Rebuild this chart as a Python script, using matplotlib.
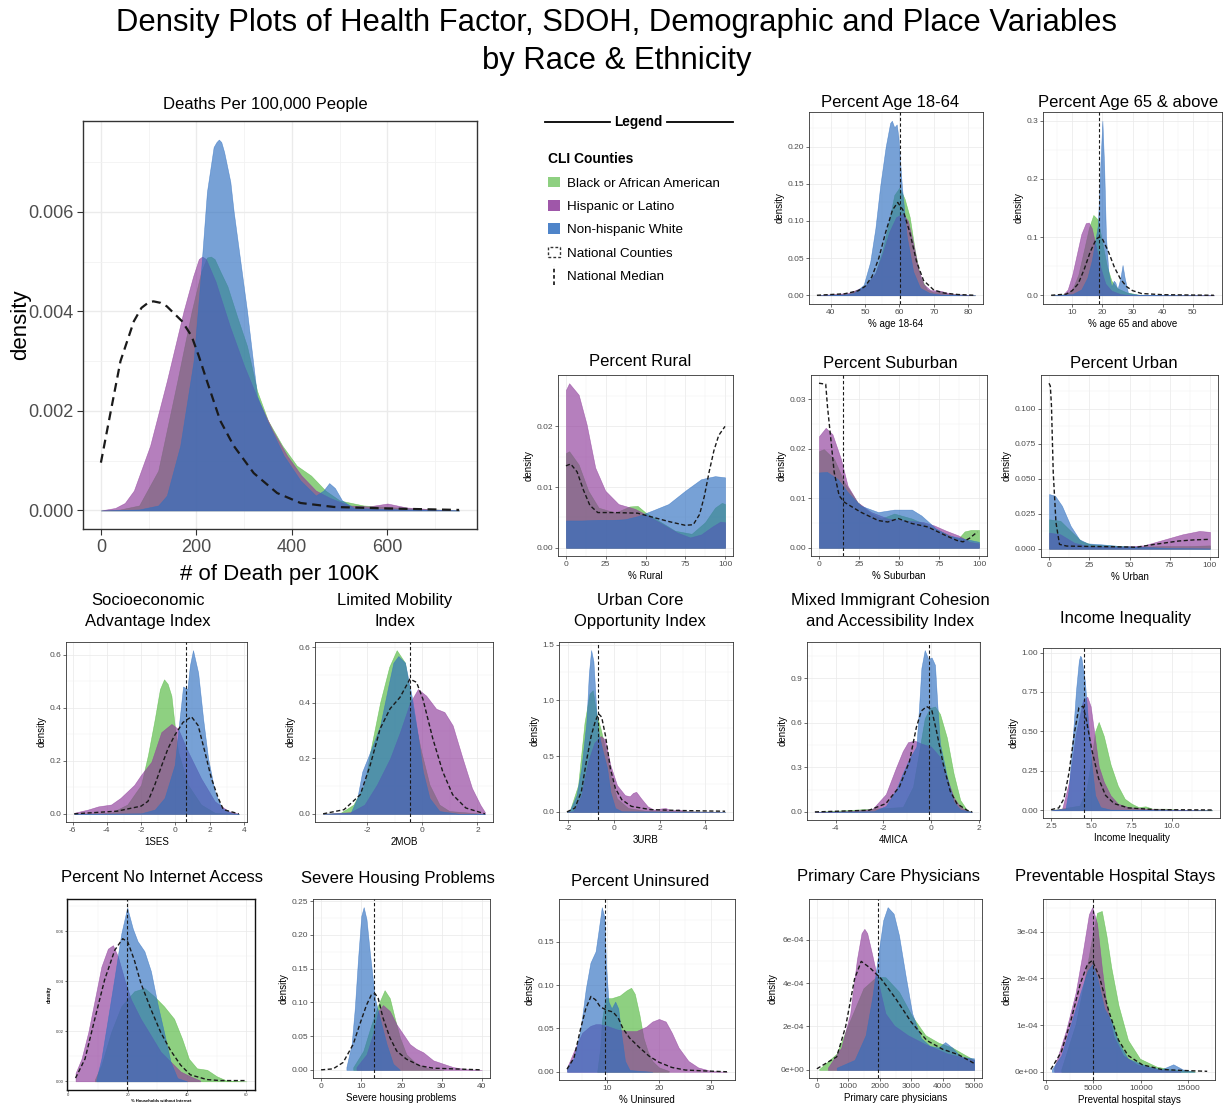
import matplotlib
matplotlib.use("Agg")
import matplotlib.pyplot as plt
from matplotlib import font_manager as fm
from matplotlib.ticker import FixedLocator, NullFormatter
from matplotlib.patches import Patch
from matplotlib.lines import Line2D
from matplotlib.legend_handler import HandlerBase

# ---------------------------------------------------------------- data
# Deaths per 100,000
DEATHS_BLACK_X = [0, 40, 80, 120, 160, 190, 210, 222, 230, 238, 250, 265, 285, 306, 327, 350, 380, 410, 440, 470, 500, 550, 600, 650, 700, 750]
DEATHS_BLACK_Y = [0, 0.00002, 0.0001, 0.0008, 0.0026, 0.0040, 0.0048, 0.00508, 0.0051, 0.00505, 0.0048, 0.0045, 0.0039, 0.0033, 0.0024, 0.0018, 0.0013, 0.0009, 0.0007, 0.0004, 0.0002, 0.0001, 0.00007, 0.00004, 0.00002, 0]
DEATHS_HISP_X = [0, 30, 50, 69, 103, 138, 173, 193, 205, 212, 220, 240, 270, 300, 330, 360, 390, 420, 450, 480, 520, 560, 600, 640, 700, 750]
DEATHS_HISP_Y = [0, 0.00005, 0.00015, 0.0004, 0.0013, 0.0026, 0.0040, 0.0047, 0.00505, 0.0051, 0.00505, 0.0046, 0.0037, 0.0029, 0.0022, 0.0016, 0.0011, 0.0007, 0.0004, 0.00025, 0.0001, 0.00008, 0.00014, 0.00006, 0.00002, 0]
DEATHS_WHITE_X = [0, 80, 120, 138, 166, 194, 208, 222, 236, 242, 247, 252, 258, 271, 278, 292, 306, 327, 348, 383, 418, 450, 466, 478, 490, 505, 530, 600, 700, 750]
DEATHS_WHITE_Y = [0, 0.00002, 0.0001, 0.0003, 0.0013, 0.0030, 0.0046, 0.0064, 0.0073, 0.0074, 0.00745, 0.0074, 0.0072, 0.0066, 0.0060, 0.0050, 0.0040, 0.0023, 0.0018, 0.0011, 0.0006, 0.0003, 0.0004, 0.00055, 0.00045, 0.0002, 0.00005, 0.00003, 0.00001, 0]
DEATHS_NAT_X = [0, 20, 41, 69, 85, 100, 110, 125, 138, 170, 190, 205, 222, 250, 278, 320, 369, 418, 488, 600, 750]
DEATHS_NAT_Y = [0.00096, 0.00196, 0.0030, 0.0038, 0.00407, 0.00418, 0.0042, 0.00417, 0.0041, 0.0038, 0.0035, 0.0031, 0.0026, 0.0018, 0.0013, 0.00075, 0.00035, 0.00015, 0.00007, 0.00004, 0.00001]

# Percent age 18-64
A1_BLACK_X = [36, 45, 50, 53, 55, 57, 58.5, 60, 61.5, 63, 64.5, 66, 68, 70, 72, 74, 82]
A1_BLACK_Y = [0, 0.002, 0.012, 0.03, 0.06, 0.10, 0.135, 0.145, 0.13, 0.105, 0.06, 0.025, 0.008, 0.004, 0.005, 0.002, 0]
A1_HISP_X = [36, 45, 50, 53, 55, 57, 59, 61, 62.5, 64, 65.5, 67, 69, 72, 75, 82]
A1_HISP_Y = [0, 0.003, 0.012, 0.03, 0.055, 0.085, 0.105, 0.11, 0.10, 0.07, 0.035, 0.015, 0.007, 0.006, 0.002, 0]
A1_WHITE_X = [36, 44, 46.7, 49.6, 51.5, 53, 54.4, 56, 57.3, 57.8, 58.5, 59.2, 59.7, 60.7, 62.1, 64, 66, 68.8, 72, 82]
A1_WHITE_Y = [0, 0.001, 0.003, 0.014, 0.045, 0.09, 0.147, 0.2, 0.232, 0.235, 0.226, 0.23, 0.213, 0.147, 0.08, 0.032, 0.01, 0.003, 0.001, 0]
A1_NAT_X = [36, 44, 48, 50, 52, 54, 56, 58, 59.5, 61, 63, 65, 67, 70, 73, 77, 82]
A1_NAT_Y = [0, 0.002, 0.006, 0.012, 0.025, 0.05, 0.085, 0.115, 0.125, 0.115, 0.085, 0.045, 0.02, 0.007, 0.003, 0.001, 0]
A1_MED = 60.2

# Percent age 65 and above
A2_BLACK_X = [3, 8, 10, 12, 14, 15.5, 17, 18.5, 20, 21.5, 23, 25, 28, 32, 57]
A2_BLACK_Y = [0, 0.002, 0.01, 0.035, 0.08, 0.115, 0.138, 0.13, 0.09, 0.05, 0.025, 0.012, 0.005, 0.001, 0]
A2_HISP_X = [3, 7, 8.5, 10, 11.5, 13, 14.5, 15.5, 16.5, 18, 19.5, 21, 23, 26, 30, 57]
A2_HISP_Y = [0, 0.001, 0.01, 0.035, 0.07, 0.105, 0.124, 0.125, 0.115, 0.08, 0.045, 0.02, 0.008, 0.002, 0, 0]
A2_WHITE_X = [3, 10, 13, 15, 16.5, 17.5, 18.5, 19.3, 20.0, 20.6, 21.2, 22, 23, 23.8, 24.3, 25, 26, 26.7, 27.4, 28.5, 32, 57]
A2_WHITE_Y = [0, 0.002, 0.01, 0.03, 0.06, 0.09, 0.12, 0.22, 0.30, 0.22, 0.10, 0.04, 0.015, 0.025, 0.022, 0.01, 0.03, 0.052, 0.03, 0.004, 0.001, 0]
A2_NAT_X = [3, 8, 10, 12, 14, 16, 18, 19, 20, 22, 24, 26, 28, 30, 33, 40, 57]
A2_NAT_Y = [0, 0.002, 0.008, 0.02, 0.045, 0.075, 0.097, 0.1, 0.097, 0.075, 0.048, 0.028, 0.015, 0.008, 0.003, 0.001, 0]
A2_MED = 18.9

# Percent rural
RU_BLACK_X = [0, 2, 8, 14, 20.5, 31, 40, 45, 50, 58, 68.6, 79, 87.4, 93.7, 98, 100]
RU_BLACK_Y = [0.0156, 0.0159, 0.0137, 0.0094, 0.0066, 0.0058, 0.0068, 0.0069, 0.0058, 0.0045, 0.0028, 0.0023, 0.0042, 0.0066, 0.0074, 0.0072]
RU_HISP_X = [0, 2, 8, 13, 18.4, 24.7, 33, 43.5, 50, 60, 70, 78, 85, 92, 97, 100]
RU_HISP_Y = [0.026, 0.0271, 0.0252, 0.0203, 0.0132, 0.0094, 0.0072, 0.0064, 0.0055, 0.0040, 0.0025, 0.0017, 0.0022, 0.0035, 0.0043, 0.0042]
RU_WHITE_X = [0, 10, 20, 30, 37, 45, 54, 64.4, 75, 85, 93.7, 100]
RU_WHITE_Y = [0.0045, 0.0045, 0.0046, 0.0046, 0.0047, 0.0052, 0.0061, 0.0072, 0.0094, 0.0113, 0.0118, 0.0116]
RU_NAT_X = [0, 3, 7, 11, 15, 20, 30, 45, 55, 65, 75, 80, 84, 87, 90, 93, 96, 100]
RU_NAT_Y = [0.0135, 0.0138, 0.0125, 0.0095, 0.0070, 0.0058, 0.0058, 0.0057, 0.0050, 0.0043, 0.0037, 0.0038, 0.0055, 0.0085, 0.0125, 0.0160, 0.0185, 0.0200]

# Percent suburban
SU_BLACK_X = [0, 3, 9.5, 15.8, 24, 32, 39, 47, 58, 68, 79, 87, 91, 95, 100]
SU_BLACK_Y = [0.0195, 0.0199, 0.0179, 0.0132, 0.0092, 0.0070, 0.0059, 0.0069, 0.0059, 0.0045, 0.0029, 0.0018, 0.0033, 0.0036, 0.0036]
SU_HISP_X = [0, 4.2, 8.4, 13.7, 17.9, 24, 32.6, 43, 55, 65, 72, 79, 87, 94, 100]
SU_HISP_Y = [0.0225, 0.0242, 0.0229, 0.0179, 0.0125, 0.0092, 0.0072, 0.0059, 0.0055, 0.0052, 0.0045, 0.0035, 0.0025, 0.0012, 0.0009]
SU_WHITE_X = [0, 5, 11.6, 18, 26, 37, 47, 58, 64, 73, 81, 89.5, 100]
SU_WHITE_Y = [0.0152, 0.0153, 0.0139, 0.0112, 0.0085, 0.0072, 0.0077, 0.0077, 0.0065, 0.0039, 0.0025, 0.0019, 0.0012]
SU_NAT_X = [0, 4.2, 5.3, 7.4, 9.5, 12.6, 15.8, 26, 37, 43, 49.5, 58, 68, 79, 86, 90, 94, 99]
SU_NAT_Y = [0.0332, 0.033, 0.0285, 0.0219, 0.0152, 0.0105, 0.0092, 0.0072, 0.0055, 0.0052, 0.0059, 0.0049, 0.0042, 0.0025, 0.0015, 0.0012, 0.0019, 0.0032]
SU_MED = 15.2

# Percent urban
UR_BLACK_X = [0, 7, 13.4, 20, 26, 37, 54.5, 70, 87, 100]
UR_BLACK_Y = [0.021, 0.0199, 0.0127, 0.0055, 0.0031, 0.0024, 0.0014, 0.0019, 0.0019, 0.0024]
UR_HISP_X = [0, 7, 15.6, 24, 44, 59, 72, 83, 93.5, 100]
UR_HISP_Y = [0.0115, 0.0103, 0.0043, 0.0019, 0.0014, 0.0024, 0.0067, 0.0103, 0.0127, 0.012]
UR_WHITE_X = [0, 3.7, 8, 13.4, 18.8, 24, 33, 44, 54.5, 65, 76, 100]
UR_WHITE_Y = [0.039, 0.0378, 0.0306, 0.0163, 0.0067, 0.0038, 0.0031, 0.0019, 0.0014, 0.0010, 0.0005, 0.0002]
UR_NAT_X = [0, 0.8, 1.5, 2.6, 4.3, 6.5, 11, 20, 35, 50, 54, 65, 80.5, 90, 100]
UR_NAT_Y = [0.118, 0.116, 0.102, 0.0545, 0.0187, 0.0031, 0.0019, 0.0017, 0.0015, 0.0012, 0.0010, 0.003, 0.0055, 0.0063, 0.0067]

# 1SES
SES_BLACK_X = [-5.9, -3.75, -2.8, -2.0, -1.6, -1.2, -0.9, -0.66, -0.45, -0.23, -0.04, 0.16, 0.74, 1.5, 2.3, 3.7]
SES_BLACK_Y = [0, 0.004, 0.035, 0.109, 0.221, 0.358, 0.47, 0.507, 0.49, 0.445, 0.333, 0.234, 0.109, 0.035, 0.004, 0]
SES_HISP_X = [-5.9, -5.1, -4.5, -3.75, -3.2, -2.4, -2.0, -1.4, -0.82, -0.23, 0.16, 0.74, 1.5, 2.3, 3.1, 3.7]
SES_HISP_Y = [0.004, 0.016, 0.028, 0.035, 0.06, 0.109, 0.147, 0.196, 0.308, 0.339, 0.32, 0.234, 0.134, 0.047, 0.01, 0]
SES_WHITE_X = [-5.9, -2.0, -1.2, -0.63, -0.04, 0.2, 0.45, 0.7, 0.85, 1.03, 1.33, 1.62, 1.91, 2.3, 2.7, 3.3, 3.7]
SES_WHITE_Y = [0, 0.002, 0.016, 0.06, 0.184, 0.33, 0.48, 0.47, 0.56, 0.617, 0.532, 0.358, 0.209, 0.084, 0.022, 0.002, 0]
SES_NAT_X = [-5.9, -3.4, -2.0, -1.6, -1.2, -0.82, -0.43, -0.04, 0.45, 0.94, 1.33, 1.72, 2.1, 2.5, 2.8, 3.7]
SES_NAT_Y = [0, 0.01, 0.029, 0.047, 0.109, 0.178, 0.246, 0.296, 0.345, 0.366, 0.333, 0.234, 0.134, 0.06, 0.016, 0]
SES_MED = 0.6

# 2MOB
MOB_BLACK_X = [-3.6, -2.96, -2.5, -2.1, -1.89, -1.53, -1.2, -0.93, -0.63, -0.39, -0.2, -0.04, 0.26, 0.62, 0.98, 2.27]
MOB_BLACK_Y = [0, 0.004, 0.033, 0.105, 0.224, 0.402, 0.53, 0.59, 0.545, 0.402, 0.3, 0.224, 0.105, 0.033, 0.01, 0]
MOB_HISP_X = [-3.6, -2.6, -2.1, -1.65, -1.17, -0.81, -0.45, -0.16, 0.14, 0.5, 0.8, 1.1, 1.46, 1.8, 2.1, 2.27]
MOB_HISP_Y = [0, 0.006, 0.033, 0.105, 0.2, 0.295, 0.4, 0.45, 0.426, 0.379, 0.367, 0.319, 0.2, 0.093, 0.033, 0.006]
MOB_WHITE_X = [-3.6, -2.6, -2.36, -2.18, -1.89, -1.53, -1.23, -1.05, -0.87, -0.63, -0.39, -0.2, 0.02, 0.26, 0.62, 1.34, 2.27]
MOB_WHITE_Y = [0, 0.004, 0.057, 0.152, 0.224, 0.319, 0.462, 0.545, 0.569, 0.545, 0.426, 0.307, 0.152, 0.057, 0.01, 0, 0]
MOB_NAT_X = [-3.6, -2.84, -2.25, -1.89, -1.53, -1.17, -0.81, -0.45, -0.21, 0.02, 0.38, 0.74, 1.1, 1.58, 2.27]
MOB_NAT_Y = [0, 0.015, 0.069, 0.176, 0.307, 0.379, 0.42, 0.486, 0.474, 0.414, 0.271, 0.152, 0.069, 0.021, 0]
MOB_MED = -0.45

# 3URB
URB_BLACK_X = [-2.06, -1.92, -1.57, -1.29, -1.07, -0.93, -0.76, -0.58, -0.37, -0.16, 0.13, 0.62, 1.33, 3.0, 4.86]
URB_BLACK_Y = [0, 0.02, 0.24, 0.8, 1.06, 1.09, 0.87, 0.74, 0.56, 0.33, 0.12, 0.035, 0.012, 0.006, 0]
URB_HISP_X = [-2.06, -1.78, -1.43, -1.14, -0.86, -0.58, -0.4, -0.16, 0.13, 0.48, 0.69, 0.83, 0.97, 1.19, 1.47, 1.75, 2.03, 2.25, 2.53, 2.81, 3.1, 4.86]
URB_HISP_Y = [0, 0.006, 0.15, 0.45, 0.62, 0.68, 0.65, 0.42, 0.24, 0.15, 0.14, 0.17, 0.18, 0.12, 0.05, 0.02, 0.03, 0.035, 0.012, 0.023, 0.006, 0]
URB_WHITE_X = [-2.06, -1.92, -1.64, -1.43, -1.21, -1.1, -1.0, -0.9, -0.76, -0.65, -0.5, -0.3, -0.16, 0.05, 0.34, 4.86]
URB_WHITE_Y = [0, 0.02, 0.15, 0.39, 0.8, 1.24, 1.45, 1.35, 0.86, 0.68, 0.55, 0.39, 0.18, 0.035, 0.006, 0]
URB_NAT_X = [-2.06, -1.71, -1.43, -1.21, -1.0, -0.82, -0.68, -0.54, -0.37, -0.16, 0.06, 0.34, 0.76, 1.61, 3.0, 4.86]
URB_NAT_Y = [0, 0.035, 0.18, 0.45, 0.68, 0.81, 0.88, 0.85, 0.68, 0.39, 0.21, 0.11, 0.05, 0.02, 0.012, 0.006]
URB_MED = -0.72

# 4MICA
MICA_BLACK_X = [-4.87, -1.18, -0.75, -0.47, -0.26, -0.04, 0.17, 0.38, 0.67, 0.95, 1.23, 1.52, 1.73]
MICA_BLACK_Y = [0, 0.033, 0.17, 0.43, 0.63, 0.70, 0.71, 0.66, 0.50, 0.26, 0.08, 0.011, 0]
MICA_HISP_X = [-4.87, -3.87, -3.3, -2.45, -1.89, -1.46, -1.18, -0.96, -0.68, -0.4, 0.0, 0.38, 0.67, 0.95, 1.23, 1.52, 1.73]
MICA_HISP_Y = [0, 0.003, 0.007, 0.02, 0.12, 0.30, 0.41, 0.47, 0.48, 0.46, 0.44, 0.37, 0.23, 0.10, 0.033, 0.007, 0]
MICA_WHITE_X = [-4.87, -2.4, -1.89, -1.46, -1.18, -0.9, -0.61, -0.5, -0.4, -0.26, -0.11, 0.03, 0.17, 0.27, 0.38, 0.67, 0.95, 1.23, 1.73]
MICA_WHITE_Y = [0, 0.005, 0.04, 0.15, 0.26, 0.36, 0.44, 0.70, 0.97, 1.09, 1.03, 1.04, 0.99, 0.72, 0.46, 0.24, 0.07, 0.016, 0]
MICA_NAT_X = [-4.87, -2.6, -1.89, -1.32, -0.9, -0.61, -0.4, -0.18, 0.03, 0.24, 0.52, 0.81, 1.09, 1.52, 1.73]
MICA_NAT_Y = [0, 0.011, 0.056, 0.17, 0.34, 0.57, 0.68, 0.71, 0.69, 0.54, 0.32, 0.14, 0.056, 0.011, 0]
MICA_MED = -0.1

# Income inequality
IN_BLACK_X = [2.5, 4.27, 4.7, 5.03, 5.24, 5.46, 5.78, 6.2, 6.65, 7.08, 7.5, 7.94, 8.37, 8.8, 9.67, 10.5, 12.5]
IN_BLACK_Y = [0, 0.03, 0.135, 0.34, 0.5, 0.56, 0.47, 0.29, 0.156, 0.073, 0.042, 0.02, 0.025, 0.01, 0.01, 0.002, 0]
IN_HISP_X = [2.5, 3.19, 3.62, 4.05, 4.49, 4.75, 4.96, 5.24, 5.46, 5.78, 6.2, 6.65, 7.3, 8.4, 10.1, 12.5]
IN_HISP_Y = [0, 0.01, 0.18, 0.49, 0.70, 0.72, 0.66, 0.45, 0.28, 0.18, 0.094, 0.042, 0.02, 0.01, 0.004, 0]
IN_WHITE_X = [2.5, 3.4, 3.6, 3.84, 4.05, 4.23, 4.31, 4.38, 4.6, 4.81, 5.03, 5.24, 5.57, 6.2, 12.5]
IN_WHITE_Y = [0, 0.01, 0.135, 0.45, 0.76, 0.95, 0.98, 0.97, 0.82, 0.55, 0.28, 0.094, 0.02, 0.004, 0]
IN_NAT_X = [2.5, 2.98, 3.3, 3.62, 3.95, 4.23, 4.49, 4.7, 5.03, 5.46, 5.89, 6.43, 7.3, 9.0, 12.5]
IN_NAT_Y = [0.004, 0.015, 0.073, 0.24, 0.49, 0.65, 0.66, 0.57, 0.385, 0.2, 0.094, 0.042, 0.015, 0.004, 0.002]
IN_MED = 4.55

# Percent no internet access
NI_BLACK_X = [8.9, 11.1, 14.4, 17.8, 22.2, 25.6, 28.9, 32.2, 35.6, 38.3, 40.6, 43.3, 46.7, 50, 53.3, 60]
NI_BLACK_Y = [0.0007, 0.0065, 0.0197, 0.030, 0.036, 0.0373, 0.034, 0.030, 0.025, 0.017, 0.009, 0.0052, 0.0046, 0.002, 0.0003, 0]
NI_HISP_X = [2.4, 4.4, 6.7, 8.9, 11.1, 13.3, 15, 16.7, 18.9, 21.1, 24.4, 27.8, 31.1, 34.4, 37.8, 41.1, 44.4]
NI_HISP_Y = [0.0033, 0.009, 0.0197, 0.0327, 0.0458, 0.053, 0.0544, 0.0498, 0.0406, 0.0327, 0.0249, 0.0183, 0.0118, 0.0079, 0.0039, 0.002, 0.0003]
NI_WHITE_X = [9.4, 11.1, 13.3, 15.6, 17.8, 19.8, 21.7, 23.3, 25.6, 27.8, 30, 32.2, 34.4, 36.7, 40]
NI_WHITE_Y = [0.0007, 0.009, 0.025, 0.042, 0.059, 0.0694, 0.061, 0.056, 0.052, 0.044, 0.031, 0.0197, 0.0079, 0.0013, 0]
NI_NAT_X = [2.4, 5.6, 8.9, 12.2, 15.6, 18.3, 20, 22.2, 24.4, 27.8, 31.1, 34.4, 37.8, 41.1, 46.7, 51.1, 60]
NI_NAT_Y = [0.0013, 0.009, 0.025, 0.0406, 0.0524, 0.057, 0.0557, 0.0485, 0.0393, 0.0288, 0.0196, 0.0124, 0.0065, 0.0026, 0.0007, 0.0003, 0.0003]
NI_MED = 19.8

# Severe housing problems
HO_BLACK_X = [8, 10.5, 12.5, 14.2, 15.8, 17.1, 18.3, 19.6, 21.2, 23.7, 27, 30.4]
HO_BLACK_Y = [0.004, 0.028, 0.067, 0.096, 0.118, 0.106, 0.077, 0.048, 0.023, 0.009, 0.0015, 0]
HO_HISP_X = [8.8, 11.3, 12.9, 14.2, 15.4, 17.1, 18.8, 20.4, 22.1, 23.7, 25.4, 27.9, 30.4, 32.9, 36.2, 40]
HO_HISP_Y = [0.004, 0.023, 0.053, 0.087, 0.096, 0.087, 0.067, 0.053, 0.038, 0.031, 0.026, 0.014, 0.009, 0.004, 0.001, 0]
HO_WHITE_X = [6.3, 7.6, 8.4, 9.2, 10.0, 10.6, 11.3, 12.1, 13.4, 14.6, 16.3, 17.9, 19.6]
HO_WHITE_Y = [0.004, 0.038, 0.092, 0.165, 0.228, 0.241, 0.223, 0.175, 0.106, 0.077, 0.038, 0.009, 0]
HO_NAT_X = [0, 3, 5.5, 8, 9.6, 11.3, 12.5, 13.4, 14.2, 15.4, 17.1, 18.8, 21.2, 24.6, 27.9, 40]
HO_NAT_Y = [0, 0.0015, 0.011, 0.038, 0.067, 0.096, 0.111, 0.113, 0.106, 0.077, 0.048, 0.028, 0.016, 0.006, 0.0025, 0]
HO_MED = 13.2

# Percent uninsured
UN_BLACK_X = [8.0, 8.6, 8.9, 9.6, 10.8, 12.4, 13.7, 14.6, 15.3, 16.2, 17.0, 17.8, 18.7, 20.0, 21.9]
UN_BLACK_Y = [0, 0.028, 0.058, 0.085, 0.085, 0.088, 0.094, 0.097, 0.09, 0.066, 0.039, 0.024, 0.0125, 0.005, 0.001]
UN_HISP_X = [2.15, 3.5, 5.1, 6.7, 7.7, 8.5, 9.9, 11.8, 13.7, 15.6, 17.5, 18.7, 20.0, 21.3, 22.5, 23.8, 25.7, 27.6, 30.1, 33.2]
UN_HISP_Y = [0.005, 0.024, 0.045, 0.053, 0.055, 0.055, 0.053, 0.049, 0.047, 0.047, 0.052, 0.058, 0.061, 0.058, 0.045, 0.028, 0.0125, 0.005, 0.001, 0]
UN_WHITE_X = [2.15, 3.5, 4.8, 5.8, 6.7, 7.7, 8.3, 8.9, 9.4, 9.7, 10.2, 10.8, 11.5, 12.1, 12.7, 13.4, 14.3, 18.7]
UN_WHITE_Y = [0.005, 0.016, 0.05, 0.096, 0.126, 0.139, 0.164, 0.19, 0.179, 0.126, 0.081, 0.073, 0.081, 0.073, 0.043, 0.0125, 0.002, 0]
UN_NAT_X = [2.15, 3.5, 4.8, 5.8, 6.8, 7.7, 8.6, 9.9, 11.1, 12.1, 13.0, 14.3, 16.2, 18.1, 20.0, 22.5, 25.1, 28.9, 33.2]
UN_NAT_Y = [0.003, 0.016, 0.05, 0.073, 0.087, 0.083, 0.075, 0.071, 0.069, 0.062, 0.05, 0.039, 0.028, 0.018, 0.011, 0.005, 0.002, 0.001, 0]
UN_MED = 9.5

# Primary care physicians
PC_BLACK_X = [70, 630, 1060, 1480, 1900, 2180, 2610, 3030, 3450, 3870, 4300, 4720, 5000]
PC_BLACK_Y = [0.03e-4, 0.75e-4, 2.3e-4, 3.76e-4, 4.3e-4, 4.27e-4, 3.6e-4, 2.47e-4, 1.6e-4, 1.25e-4, 1.03e-4, 0.68e-4, 0.46e-4]
PC_HISP_X = [350, 775, 1060, 1270, 1420, 1510, 1600, 1760, 1970, 2180, 2460, 2890, 3450, 4150, 5000]
PC_HISP_Y = [0.1e-4, 1.03e-4, 2.6e-4, 5.06e-4, 6.3e-4, 6.5e-4, 6.3e-4, 5.3e-4, 3.9e-4, 2.6e-4, 2.04e-4, 1.6e-4, 1.18e-4, 0.75e-4, 0.46e-4]
PC_WHITE_X = [630, 1200, 1550, 1760, 1970, 2110, 2250, 2440, 2610, 2820, 3030, 3310, 3590, 3870, 4080, 4300, 4580, 5000]
PC_WHITE_Y = [0.1e-4, 0.46e-4, 1.6e-4, 3.33e-4, 5.5e-4, 6.9e-4, 7.5e-4, 7.2e-4, 6.2e-4, 4.34e-4, 2.6e-4, 1.47e-4, 1.1e-4, 1.03e-4, 1.28e-4, 1.03e-4, 0.6e-4, 0.53e-4]
PC_NAT_X = [0, 630, 915, 1200, 1410, 1690, 2040, 2500, 3000, 3500, 4000, 4500, 5000]
PC_NAT_Y = [0.05e-4, 0.6e-4, 2.0e-4, 4.2e-4, 5.0e-4, 4.7e-4, 4.2e-4, 3.3e-4, 2.2e-4, 1.35e-4, 0.95e-4, 0.7e-4, 0.3e-4]
PC_MED = 1950

# Preventable hospital stays
PR_BLACK_X = [1600, 3115, 4120, 4875, 5380, 5880, 6380, 6880, 7640, 8640, 9900, 11660, 13170, 15680]
PR_BLACK_Y = [0.05e-4, 1.02e-4, 2.03e-4, 2.9e-4, 3.4e-4, 3.44e-4, 2.9e-4, 2.23e-4, 1.42e-4, 0.68e-4, 0.28e-4, 0.11e-4, 0.05e-4, 0.01e-4]
PR_HISP_X = [850, 2110, 3115, 3870, 4520, 4875, 5380, 5880, 6380, 7140, 8140, 9650, 11660, 14170]
PR_HISP_Y = [0.08e-4, 0.89e-4, 1.69e-4, 2.56e-4, 3.37e-4, 3.52e-4, 3.17e-4, 2.23e-4, 1.42e-4, 0.75e-4, 0.35e-4, 0.15e-4, 0.05e-4, 0.01e-4]
PR_WHITE_X = [600, 1600, 2610, 3620, 4370, 4875, 5380, 6130, 6880, 7640, 8640, 9900, 10900, 12160, 13420, 14420, 15680]
PR_WHITE_Y = [0.05e-4, 0.35e-4, 1.02e-4, 1.69e-4, 2.16e-4, 2.3e-4, 2.03e-4, 1.36e-4, 1.09e-4, 0.62e-4, 0.28e-4, 0.18e-4, 0.11e-4, 0.05e-4, 0.16e-4, 0.05e-4, 0]
PR_NAT_X = [500, 1600, 2610, 3620, 4370, 4875, 5630, 6630, 7640, 8640, 10150, 12160, 14170, 17000]
PR_NAT_Y = [0.05e-4, 0.42e-4, 1.09e-4, 1.89e-4, 2.3e-4, 2.38e-4, 2.03e-4, 1.29e-4, 0.68e-4, 0.35e-4, 0.15e-4, 0.05e-4, 0.03e-4, 0.01e-4]
PR_MED = 4900

LEGEND_LABELS = ["Black or African American", "Hispanic or Latino", "Non-hispanic White",
                 "National Counties", "National Median"]

# ---------------------------------------------------------------- style
W, H = 1227, 1108
GREEN, PURPLE, BLUE = "#52B83E", "#8E3A9A", "#2F6FC0"
FILL_ALPHA = 0.65
avail = {f.name for f in fm.fontManager.ttflist}
NARROW = "Liberation Sans Narrow" if "Liberation Sans Narrow" in avail else "Liberation Sans"
TSIZE = 14.5 if NARROW == "Liberation Sans Narrow" else 12
plt.rcParams["font.family"] = ["Liberation Sans", "DejaVu Sans"]

fig = plt.figure(figsize=(W / 100, H / 100), dpi=100)
fig.patch.set_facecolor("white")


def ftext(x, y, s, **kw):
    fig.text(x / W, 1 - y / H, s, **kw)


def midpoints(ticks, lo, hi):
    step = ticks[1] - ticks[0]
    cand = [ticks[0] - step / 2] + [t + step / 2 for t in ticks]
    return [c for c in cand if lo <= c <= hi]


def panel(box, black, hisp, white, nat, med, xt, xtl, yt, ytl, xlabel,
          big=False, tiny=False):
    l, t, r, b = box
    ax = fig.add_axes([l / W, 1 - b / H, (r - l) / W, (b - t) / H])
    allx = black[0] + hisp[0] + white[0] + nat[0]
    ymax = max(black[1] + hisp[1] + white[1] + nat[1])
    x0, x1 = min(allx), max(allx)
    pad = 0.05 * (x1 - x0)
    ax.set_xlim(x0 - pad, x1 + pad)
    ax.set_ylim(-0.05 * ymax, 1.05 * ymax)
    for (xs, ys), c in ((black, GREEN), (hisp, PURPLE), (white, BLUE)):
        ax.fill_between(xs, ys, 0, facecolor=c, alpha=FILL_ALPHA,
                        edgecolor=c, linewidth=0.4, zorder=2)
    dash_lw = 1.6 if big else 1.0
    dashes = (4, 2.5) if big else (3, 1.8)
    ax.plot(nat[0], nat[1], color="#1a1a1a", lw=dash_lw, dashes=dashes, zorder=4)
    if med is not None:
        ax.axvline(med, color="#1a1a1a", lw=0.8, dashes=(3, 2), zorder=5)
    ax.xaxis.set_major_locator(FixedLocator(xt))
    ax.set_xticklabels(xtl)
    ax.yaxis.set_major_locator(FixedLocator(yt))
    ax.set_yticklabels(ytl)
    xl, yl = ax.get_xlim(), ax.get_ylim()
    ax.xaxis.set_minor_locator(FixedLocator(midpoints(xt, *xl)))
    ax.yaxis.set_minor_locator(FixedLocator(midpoints(yt, *yl)))
    ax.xaxis.set_minor_formatter(NullFormatter())
    ax.yaxis.set_minor_formatter(NullFormatter())
    ax.set_axisbelow(True)
    glw = 1.0 if big else 0.55
    ax.grid(which="major", color="#EBEBEB", lw=glw, zorder=0)
    ax.grid(which="minor", color="#F2F2F2", lw=glw * 0.6, zorder=0)
    for sp in ax.spines.values():
        sp.set_color("#333333" if not tiny else "#111111")
        sp.set_linewidth(1.0 if (big or tiny) else 0.6)
    if big:
        ax.tick_params(which="major", labelsize=13, length=4, width=0.8,
                       colors="#333333", labelcolor="#4D4D4D", pad=3)
        ax.set_xlabel(xlabel, fontsize=16, labelpad=6)
        ax.set_ylabel("density", fontsize=16, labelpad=-2)
    elif tiny:
        ax.tick_params(which="major", labelsize=3, length=1.5, width=0.5,
                       colors="#333333", labelcolor="#333333", pad=1)
        ax.set_xlabel(xlabel, fontsize=3, labelpad=1, fontweight="bold")
        ax.set_ylabel("density", fontsize=3.5, labelpad=3, fontweight="bold")
    else:
        ax.tick_params(which="major", labelsize=6, length=2, width=0.5,
                       colors="#333333", labelcolor="#4D4D4D", pad=1.5)
        ax.set_xlabel(xlabel, fontsize=7, labelpad=2)
        ax.set_ylabel("density", fontsize=7, labelpad=2)
    ax.tick_params(which="minor", length=0)
    return ax


# ---------------------------------------------------------------- title
ftext(617, 23, "Density Plots of Health Factor, SDOH, Demographic and Place Variables",
      ha="center", va="center", fontsize=22.3)
ftext(617, 61, "by Race & Ethnicity", ha="center", va="center", fontsize=22.3)

# ---------------------------------------------------------------- panels
panel((83, 121, 477, 529), (DEATHS_BLACK_X, DEATHS_BLACK_Y), (DEATHS_HISP_X, DEATHS_HISP_Y),
      (DEATHS_WHITE_X, DEATHS_WHITE_Y), (DEATHS_NAT_X, DEATHS_NAT_Y), None,
      [0, 200, 400, 600], ["0", "200", "400", "600"],
      [0, 0.002, 0.004, 0.006], ["0.000", "0.002", "0.004", "0.006"],
      "# of Death per 100K", big=True)
ftext(265, 105, "Deaths Per 100,000 People", ha="center", va="center", fontsize=TSIZE, family=NARROW)

panel((809, 112, 983, 304), (A1_BLACK_X, A1_BLACK_Y), (A1_HISP_X, A1_HISP_Y),
      (A1_WHITE_X, A1_WHITE_Y), (A1_NAT_X, A1_NAT_Y), A1_MED,
      [40, 50, 60, 70, 80], ["40", "50", "60", "70", "80"],
      [0, 0.05, 0.10, 0.15, 0.20], ["0.00", "0.05", "0.10", "0.15", "0.20"], "% age 18-64")
ftext(890, 102, "Percent Age 18-64", ha="center", va="center", fontsize=TSIZE, family=NARROW)

panel((1043, 112, 1222, 304), (A2_BLACK_X, A2_BLACK_Y), (A2_HISP_X, A2_HISP_Y),
      (A2_WHITE_X, A2_WHITE_Y), (A2_NAT_X, A2_NAT_Y), A2_MED,
      [10, 20, 30, 40, 50], ["10", "20", "30", "40", "50"],
      [0, 0.1, 0.2, 0.3], ["0.0", "0.1", "0.2", "0.3"], "% age 65 and above")
ftext(1128, 102, "Percent Age 65 & above", ha="center", va="center", fontsize=TSIZE, family=NARROW)

pct_t, pct_l = [0, 25, 50, 75, 100], ["0", "25", "50", "75", "100"]
panel((558, 375, 733, 556), (RU_BLACK_X, RU_BLACK_Y), (RU_HISP_X, RU_HISP_Y),
      (RU_WHITE_X, RU_WHITE_Y), (RU_NAT_X, RU_NAT_Y), None, pct_t, pct_l,
      [0, 0.01, 0.02], ["0.00", "0.01", "0.02"], "% Rural")
ftext(640, 362, "Percent Rural", ha="center", va="center", fontsize=TSIZE, family=NARROW)

panel((811, 375, 987, 556), (SU_BLACK_X, SU_BLACK_Y), (SU_HISP_X, SU_HISP_Y),
      (SU_WHITE_X, SU_WHITE_Y), (SU_NAT_X, SU_NAT_Y), SU_MED, pct_t, pct_l,
      [0, 0.01, 0.02, 0.03], ["0.00", "0.01", "0.02", "0.03"], "% Suburban")
ftext(890, 364, "Percent Suburban", ha="center", va="center", fontsize=TSIZE, family=NARROW)

panel((1041, 375, 1218, 557), (UR_BLACK_X, UR_BLACK_Y), (UR_HISP_X, UR_HISP_Y),
      (UR_WHITE_X, UR_WHITE_Y), (UR_NAT_X, UR_NAT_Y), None, pct_t, pct_l,
      [0, 0.025, 0.05, 0.075, 0.1], ["0.000", "0.025", "0.050", "0.075", "0.100"], "% Urban")
ftext(1124, 363, "Percent Urban", ha="center", va="center", fontsize=TSIZE, family=NARROW)

TWO_LINE = dict(ha="center", va="center", fontsize=TSIZE, family=NARROW, linespacing=1.55)
panel((66, 642, 247, 822), (SES_BLACK_X, SES_BLACK_Y), (SES_HISP_X, SES_HISP_Y),
      (SES_WHITE_X, SES_WHITE_Y), (SES_NAT_X, SES_NAT_Y), SES_MED,
      [-6, -4, -2, 0, 2, 4], ["-6", "-4", "-2", "0", "2", "4"],
      [0, 0.2, 0.4, 0.6], ["0.0", "0.2", "0.4", "0.6"], "1SES")
ftext(148, 611, "Socioeconomic\nAdvantage Index", **TWO_LINE)

panel((315, 642, 493, 822), (MOB_BLACK_X, MOB_BLACK_Y), (MOB_HISP_X, MOB_HISP_Y),
      (MOB_WHITE_X, MOB_WHITE_Y), (MOB_NAT_X, MOB_NAT_Y), MOB_MED,
      [-2, 0, 2], ["-2", "0", "2"],
      [0, 0.2, 0.4, 0.6], ["0.0", "0.2", "0.4", "0.6"], "2MOB")
ftext(395, 611, "Limited Mobility\nIndex", **TWO_LINE)

panel((559, 642, 733, 820), (URB_BLACK_X, URB_BLACK_Y), (URB_HISP_X, URB_HISP_Y),
      (URB_WHITE_X, URB_WHITE_Y), (URB_NAT_X, URB_NAT_Y), URB_MED,
      [-2, 0, 2, 4], ["-2", "0", "2", "4"],
      [0, 0.5, 1.0, 1.5], ["0.0", "0.5", "1.0", "1.5"], "3URB")
ftext(640, 611, "Urban Core\nOpportunity Index", **TWO_LINE)

panel((807, 642, 980, 820), (MICA_BLACK_X, MICA_BLACK_Y), (MICA_HISP_X, MICA_HISP_Y),
      (MICA_WHITE_X, MICA_WHITE_Y), (MICA_NAT_X, MICA_NAT_Y), MICA_MED,
      [-4, -2, 0, 2], ["-4", "-2", "0", "2"],
      [0, 0.3, 0.6, 0.9], ["0.0", "0.3", "0.6", "0.9"], "4MICA")
ftext(890, 611, "Mixed Immigrant Cohesion\nand Accessibility Index", **TWO_LINE)

panel((1043, 648, 1220, 818), (IN_BLACK_X, IN_BLACK_Y), (IN_HISP_X, IN_HISP_Y),
      (IN_WHITE_X, IN_WHITE_Y), (IN_NAT_X, IN_NAT_Y), IN_MED,
      [2.5, 5.0, 7.5, 10.0], ["2.5", "5.0", "7.5", "10.0"],
      [0, 0.25, 0.5, 0.75, 1.0], ["0.00", "0.25", "0.50", "0.75", "1.00"], "Income Inequality")
ftext(1126, 619, "Income Inequality", ha="center", va="center", fontsize=TSIZE, family=NARROW)

panel((67, 899, 255, 1090), (NI_BLACK_X, NI_BLACK_Y), (NI_HISP_X, NI_HISP_Y),
      (NI_WHITE_X, NI_WHITE_Y), (NI_NAT_X, NI_NAT_Y), NI_MED,
      [0, 20, 40, 60], ["0", "20", "40", "60"],
      [0, 0.02, 0.04, 0.06], ["0.00", "0.02", "0.04", "0.06"],
      "% Households without Internet", tiny=True)
ftext(162, 878, "Percent No Internet Access", ha="center", va="center", fontsize=TSIZE, family=NARROW)

panel((313, 899, 490, 1078), (HO_BLACK_X, HO_BLACK_Y), (HO_HISP_X, HO_HISP_Y),
      (HO_WHITE_X, HO_WHITE_Y), (HO_NAT_X, HO_NAT_Y), HO_MED,
      [0, 10, 20, 30, 40], ["0", "10", "20", "30", "40"],
      [0, 0.05, 0.10, 0.15, 0.20, 0.25], ["0.00", "0.05", "0.10", "0.15", "0.20", "0.25"],
      "Severe housing problems")
ftext(398, 878, "Severe Housing Problems", ha="center", va="center", fontsize=TSIZE, family=NARROW)

panel((559, 899, 735, 1080), (UN_BLACK_X, UN_BLACK_Y), (UN_HISP_X, UN_HISP_Y),
      (UN_WHITE_X, UN_WHITE_Y), (UN_NAT_X, UN_NAT_Y), UN_MED,
      [10, 20, 30], ["10", "20", "30"],
      [0, 0.05, 0.10, 0.15], ["0.00", "0.05", "0.10", "0.15"], "% Uninsured")
ftext(640, 882, "Percent Uninsured", ha="center", va="center", fontsize=TSIZE, family=NARROW)

panel((809, 899, 982, 1078), (PC_BLACK_X, PC_BLACK_Y), (PC_HISP_X, PC_HISP_Y),
      (PC_WHITE_X, PC_WHITE_Y), (PC_NAT_X, PC_NAT_Y), PC_MED,
      [0, 1000, 2000, 3000, 4000, 5000], ["0", "1000", "2000", "3000", "4000", "5000"],
      [0, 2e-4, 4e-4, 6e-4], ["0e+00", "2e-04", "4e-04", "6e-04"], "Primary care physicians")
ftext(889, 877, "Primary Care Physicians", ha="center", va="center", fontsize=TSIZE, family=NARROW)

panel((1043, 899, 1215, 1080), (PR_BLACK_X, PR_BLACK_Y), (PR_HISP_X, PR_HISP_Y),
      (PR_WHITE_X, PR_WHITE_Y), (PR_NAT_X, PR_NAT_Y), PR_MED,
      [0, 5000, 10000, 15000], ["0", "5000", "10000", "15000"],
      [0, 1e-4, 2e-4, 3e-4], ["0e+00", "1e-04", "2e-04", "3e-04"], "Prevental hospital stays")
ftext(1115, 877, "Preventable Hospital Stays", ha="center", va="center", fontsize=TSIZE, family=NARROW)

# ---------------------------------------------------------------- legend
fig.add_artist(Line2D([545 / W, 610 / W], [1 - 122 / H] * 2, transform=fig.transFigure,
                      color="black", lw=1.3))
fig.add_artist(Line2D([667 / W, 733 / W], [1 - 122 / H] * 2, transform=fig.transFigure,
                      color="black", lw=1.3))
ftext(638.5, 122, "Legend", ha="center", va="center", fontsize=9.8, fontweight="bold", family=NARROW)


class VDashHandler(HandlerBase):
    def create_artists(self, legend, orig_handle, xdescent, ydescent, width, height,
                       fontsize, trans):
        cx = width / 2 - xdescent
        ln = Line2D([cx, cx], [-ydescent - 3, height - ydescent + 3], color="#222222",
                    lw=1.3, dashes=(2, 1.5), transform=trans)
        return [ln]


median_handle = Line2D([], [], color="#222222")
handles = [Patch(facecolor=GREEN, alpha=FILL_ALPHA, edgecolor="none"),
           Patch(facecolor=PURPLE, alpha=0.85, edgecolor="none"),
           Patch(facecolor=BLUE, alpha=0.85, edgecolor="none"),
           Patch(facecolor="white", edgecolor="#333333", linestyle=(0, (2, 1.5)), lw=1.0),
           median_handle]
leg = fig.legend(handles, LEGEND_LABELS, loc="upper left",
                 bbox_to_anchor=(539 / W, 1 - 143 / H), frameon=False,
                 title="CLI Counties", alignment="left",
                 title_fontproperties={"weight": "bold", "size": 10, "family": NARROW},
                 prop={"size": 9.6, "family": NARROW},
                 handlelength=0.85, handleheight=0.85, handletextpad=0.55,
                 labelspacing=0.78, borderpad=0.2,
                 handler_map={median_handle: VDashHandler()})

fig.savefig("out.png", dpi=100, facecolor="white")
